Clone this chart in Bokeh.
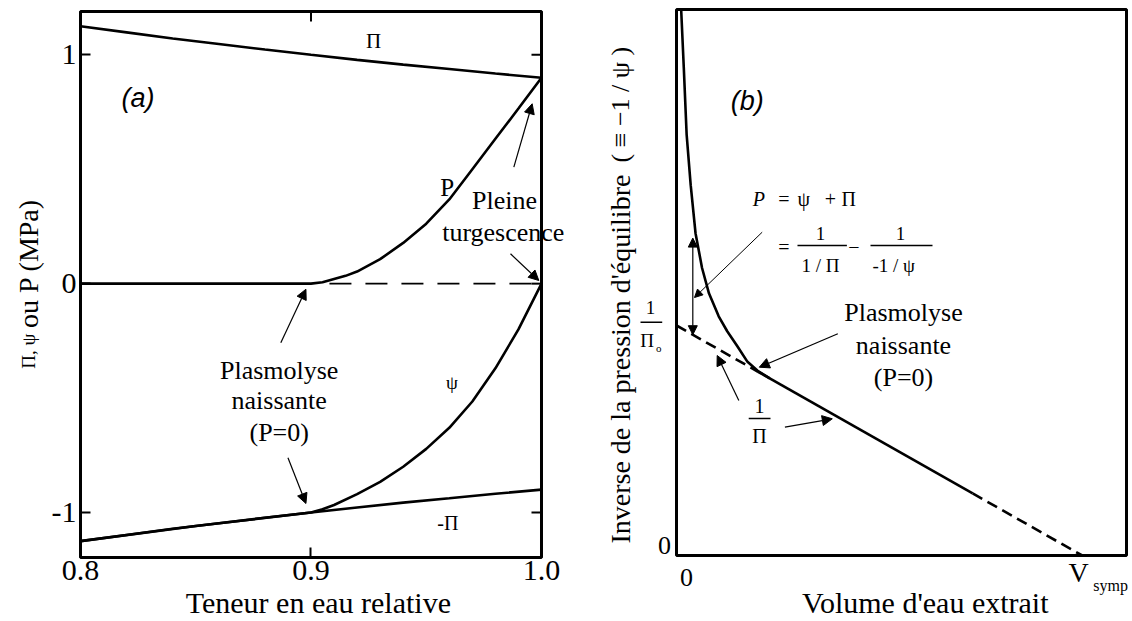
import math

from bokeh.embed import file_html
from bokeh.layouts import row
from bokeh.models import (Arrow, BoxAnnotation, CustomJSTickFormatter,
                          FixedTicker, Label, NormalHead, Range1d)
from bokeh.plotting import figure
from bokeh.resources import INLINE

SERIF = "Liberation Serif"
SANS = "Liberation Sans"

# ---------------------------------------------------------------------------
# (a) potentials against relative water content
# ---------------------------------------------------------------------------
rwc = [0.80, 0.82, 0.84, 0.86, 0.88, 0.90, 0.92, 0.94, 0.96, 0.98, 1.00]
osmotic = [1.125, 1.098, 1.071, 1.047, 1.023, 1.000, 0.978, 0.957, 0.938, 0.918, 0.900]
neg_osmotic = [-1.125, -1.098, -1.071, -1.047, -1.023, -1.000, -0.978, -0.957, -0.938, -0.918, -0.900]

turgor_rwc = [0.80, 0.85, 0.90, 0.905, 0.91, 0.915, 0.92, 0.93, 0.94, 0.95,
              0.96, 0.97, 0.98, 0.99, 1.00]
turgor = [0.0, 0.0, 0.0, 0.006, 0.02, 0.034, 0.053, 0.107, 0.178, 0.262,
          0.368, 0.50, 0.633, 0.765, 0.90]

water_rwc = [0.80, 0.85, 0.90, 0.905, 0.91, 0.92, 0.93, 0.94, 0.95, 0.96,
             0.97, 0.98, 0.99, 1.00]
water_pot = [-1.125, -1.059, -1.0, -0.986, -0.967, -0.92, -0.866, -0.80,
             -0.722, -0.63, -0.515, -0.37, -0.20, 0.0]

zero_rwc = [0.908, 1.0]
zero_val = [0.0, 0.0]

x_ticks_a = [0.8, 0.9, 1.0]
y_ticks_a = [-1, 0, 1]

# panel box of (a), in data units
A_LEFT, A_RIGHT, A_BOTTOM, A_TOP = 0.8, 1.0, -1.1966, 1.1892
# 10 px inward tick length expressed in data units
A_TICK_X, A_TICK_Y = 0.00434, 0.0437

# ---------------------------------------------------------------------------
# (b) pressure-volume curve
# ---------------------------------------------------------------------------
vol = [0.0, 0.20, 0.73, 1.0]          # volume extracted (fraction of V_symp)
inv_pi = [1.0, 0.80, 0.27, 0.0]       # 1 / Pi
curve_vol = [0.0115, 0.018, 0.025, 0.035, 0.047, 0.063, 0.080, 0.104, 0.125,
             0.150, 0.175, 0.200, 0.230]
curve_inv = [2.374, 2.12, 1.83, 1.61, 1.40, 1.25, 1.14, 1.04, 0.975,
             0.91, 0.842, 0.803, 0.770]  # -1 / psi

B_LEFT, B_RIGHT, B_BOTTOM, B_TOP = 0.0, 1.1092, 0.0, 2.3739

LW = 2.6


def label(p, x, y, text, size, font=SERIF, style="normal", align="center",
          baseline="middle", angle=0.0, color="black"):
    p.add_layout(Label(x=x, y=y, text=text, text_font=font,
                       text_font_size=f"{size}px", text_font_style=style,
                       text_align=align, text_baseline=baseline, angle=angle,
                       text_color=color))


def head(size):
    return NormalHead(size=size, fill_color="black", line_color="black",
                      line_width=1)


def arrow(p, x0, y0, x1, y1, both=False, size=10, lw=1.2):
    p.add_layout(Arrow(x_start=x0, y_start=y0, x_end=x1, y_end=y1,
                       end=head(size), start=head(size) if both else None,
                       line_width=lw, line_color="black"))


def base_style(p):
    p.outline_line_color = None
    p.xgrid.visible = False
    p.ygrid.visible = False
    p.background_fill_color = "white"
    p.border_fill_color = "white"


def panel_box(p, left, right, bottom, top):
    p.add_layout(BoxAnnotation(left=left, right=right, bottom=bottom, top=top,
                               fill_color=None, line_color="black",
                               line_width=3, line_alpha=1.0))


def tick_axis(ax, ticks, digits, location):
    ax.ticker = FixedTicker(ticks=ticks)
    ax.formatter = CustomJSTickFormatter(code=f"return tick.toFixed({digits})")
    ax.fixed_location = location
    ax.axis_line_color = None
    ax.major_tick_in = 10
    ax.major_tick_out = 0
    ax.major_tick_line_width = 2
    ax.major_tick_line_color = "black"
    ax.minor_tick_line_color = None
    ax.major_label_text_font = SERIF
    ax.major_label_text_color = "black"
    ax.major_label_text_font_size = "30px"
    ax.major_label_standoff = 4


# ---------------------------------------------------------------------------
pa = figure(width=580, height=621, x_range=Range1d(0.765293, 1.016920),
            y_range=Range1d(-1.47629, 1.23727), output_backend="svg",
            toolbar_location=None, min_border=0, min_border_left=0,
            min_border_right=0, min_border_top=0, min_border_bottom=0)
base_style(pa)
tick_axis(pa.xaxis[0], x_ticks_a, 1, A_BOTTOM)
tick_axis(pa.yaxis[0], y_ticks_a, 0, A_LEFT)
panel_box(pa, A_LEFT, A_RIGHT, A_BOTTOM, A_TOP)

# mirrored inward ticks on the top and right sides of the box
n_x, n_y = len(x_ticks_a), len(y_ticks_a)
pa.segment(x0=x_ticks_a, y0=[A_TOP] * n_x, x1=x_ticks_a,
           y1=[A_TOP - A_TICK_Y] * n_x, line_color="black", line_width=2)
pa.segment(x0=[A_RIGHT] * n_y, y0=y_ticks_a, x1=[A_RIGHT - A_TICK_X] * n_y,
           y1=y_ticks_a, line_color="black", line_width=2)

pa.line(rwc, osmotic, line_color="black", line_width=LW)
pa.line(rwc, neg_osmotic, line_color="black", line_width=LW)
pa.line(turgor_rwc, turgor, line_color="black", line_width=LW)
pa.line(water_rwc, water_pot, line_color="black", line_width=LW)
pa.line(zero_rwc, zero_val, line_color="black", line_width=1.6,
        line_dash="22 14")

label(pa, 0.9271, 1.061, "Π", 21)
label(pa, 0.8249, 0.813, "(a)", 27, font=SANS, style="italic")
label(pa, 0.9591, 0.4215, "P", 25)
label(pa, 0.9699, 0.3615, "Pleine", 26, align="left")
label(pa, 0.9569, 0.2235, "turgescence", 26, align="left")
arrow(pa, 0.9880, 0.509, 0.99596, 0.786)
arrow(pa, 0.98655, 0.1304, 0.99883, 0.0138)
label(pa, 0.8862, -0.3816, "Plasmolyse", 26)
label(pa, 0.8862, -0.5127, "naissante", 26)
label(pa, 0.8862, -0.6512, "(P=0)", 26)
arrow(pa, 0.8869, -0.2579, 0.8978, -0.0245)
arrow(pa, 0.8900, -0.7605, 0.8978, -0.9607)
label(pa, 0.9612, -0.4306, "ψ", 19)
label(pa, 0.9594, -1.0446, "-Π", 20)

label(pa, 0.7774, -0.1936, "ou P (MPa)", 28, align="left", angle=math.pi / 2)
label(pa, 0.7774, -0.372, "Π, ψ", 19, align="left", angle=math.pi / 2)
label(pa, 0.9032, -1.394, "Teneur en eau relative", 30)

# ---------------------------------------------------------------------------
pb = figure(width=552, height=621, x_range=Range1d(-0.23663, 1.12398),
            y_range=Range1d(-0.28696, 2.41304), output_backend="svg",
            toolbar_location=None, min_border=0, min_border_left=0,
            min_border_right=0, min_border_top=0, min_border_bottom=0)
base_style(pb)
pb.xaxis.visible = False
pb.yaxis.visible = False
panel_box(pb, B_LEFT, B_RIGHT, B_BOTTOM, B_TOP)

pb.line(vol[0:2], inv_pi[0:2], line_color="black", line_width=LW,
        line_dash="11 6")
pb.line(vol[1:3], inv_pi[1:3], line_color="black", line_width=LW)
pb.line(vol[2:4], inv_pi[2:4], line_color="black", line_width=LW,
        line_dash="11 6")
pb.line(curve_vol, curve_inv, line_color="black", line_width=LW)

# P as the gap between the two curves
arrow(pb, 0.0402, 0.96, 0.0402, 1.38, both=True, size=9)
arrow(pb, 0.2112, 1.4057, 0.0444, 1.1217, size=8, lw=1.0)

label(pb, 0.1743, 1.978, "(b)", 27, font=SANS, style="italic")

# P = psi + Pi = 1/(1/Pi) - 1/(-1/psi)
label(pb, 0.2029, 1.551, "P", 20, style="italic")
label(pb, 0.2645, 1.551, "=", 20)
label(pb, 0.3138, 1.551, "ψ", 20)
label(pb, 0.3796, 1.551, "+", 20)
label(pb, 0.4247, 1.551, "Π", 20)
label(pb, 0.2645, 1.3404, "=", 20)
label(pb, 0.3549, 1.3987, "1", 19)
label(pb, 0.3549, 1.2609, "1 / Π", 19)
label(pb, 0.437, 1.3404, "−", 20)
label(pb, 0.5521, 1.3987, "1", 19)
label(pb, 0.5472, 1.2609, "-1  /  ψ", 19)
pb.segment(x0=[0.2982, 0.4782], y0=[1.3478, 1.3478],
           x1=[0.42, 0.631], y1=[1.3478, 1.3478],
           line_color="black", line_width=1.5)

label(pb, 0.5595, 1.0565, "Plasmolyse", 26)
label(pb, 0.5595, 0.913, "naissante", 26)
label(pb, 0.5595, 0.774, "(P=0)", 26)
arrow(pb, 0.3976, 0.964, 0.2041, 0.8187)

label(pb, 0.2046, 0.652, "1", 20)
label(pb, 0.2046, 0.5217, "Π", 20)
pb.segment(x0=[0.178], y0=[0.5957], x1=[0.2317], y1=[0.5957],
           line_color="black", line_width=1.5)
arrow(pb, 0.1536, 0.674, 0.1003, 0.8696)
arrow(pb, 0.2672, 0.5578, 0.384, 0.5943)

# tick texts
label(pb, -0.0296, 0.0435, "0", 26)
label(pb, -0.0641, 1.0796, "1", 19)
pb.segment(x0=[-0.0887], y0=[1.0143], x1=[-0.0352], y1=[1.0143],
           line_color="black", line_width=1.5)
label(pb, -0.0722, 0.9348, "Π", 19)
label(pb, -0.0436, 0.90, "o", 11)
label(pb, 0.0244, -0.0943, "0", 26)
label(pb, 0.9909, -0.0726, "V", 28)
label(pb, 1.07, -0.1304, "symp", 16)

label(pb, 0.6133, -0.203, "Volume d'eau extrait", 30)
label(pb, -0.137, 0.052, "Inverse de la pression d'équilibre", 28,
      align="left", angle=math.pi / 2)
label(pb, -0.137, 1.709, "(   ≡  −1  /  ψ   )", 26, align="left",
      angle=math.pi / 2)

layout = row(pa, pb)
open("out.html", "w").write(file_html(layout, INLINE))
